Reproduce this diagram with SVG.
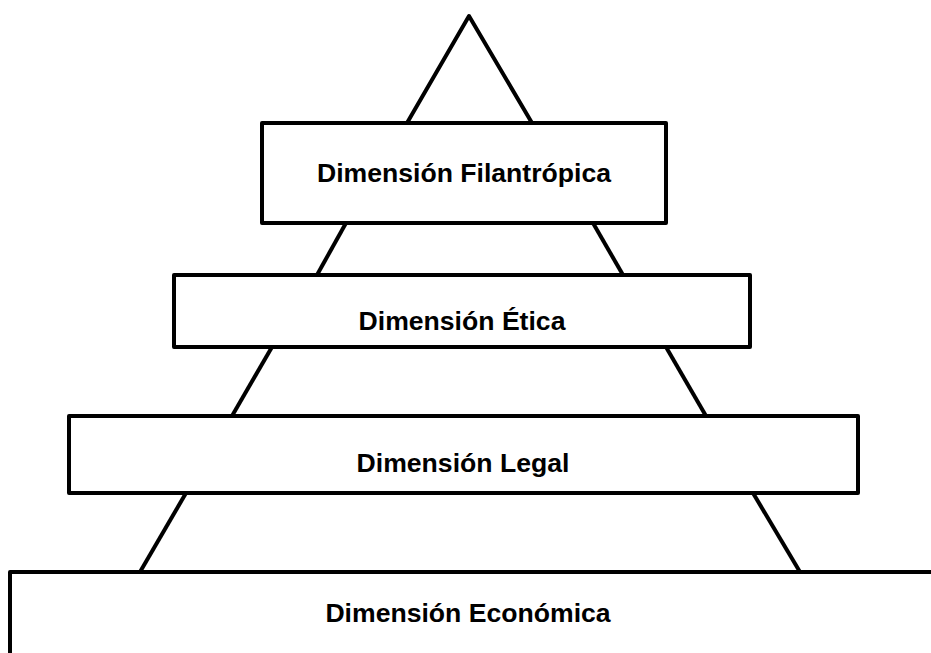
<svg xmlns="http://www.w3.org/2000/svg" width="931" height="653" viewBox="0 0 931 653">
<style>
.box{fill:#fff;stroke:#000;stroke-width:4;stroke-linejoin:round}
.ln{stroke:#000;stroke-width:4;fill:none;stroke-linejoin:round}
.t{font-family:"Liberation Sans",Arial,sans-serif;font-weight:bold;font-size:26.6px;fill:#000;text-anchor:middle}
</style>
<rect width="931" height="653" fill="#fff"/>
<g id="connectors">
<polyline class="ln" points="407,123 469,16 532,123"/>
<line class="ln" x1="346" y1="223" x2="317" y2="275"/>
<line class="ln" x1="593" y1="223" x2="623" y2="275"/>
<line class="ln" x1="272" y1="347" x2="232" y2="416"/>
<line class="ln" x1="666" y1="347" x2="706" y2="416"/>
<line class="ln" x1="186" y1="493" x2="140" y2="572"/>
<line class="ln" x1="753" y1="493" x2="800" y2="572"/>
</g>
<g id="filantropica">
<rect class="box" x="262" y="123" width="404" height="100"/>
<text class="t" x="464" y="182">Dimensión Filantrópica</text>
</g>
<g id="etica">
<rect class="box" x="174" y="275" width="576" height="72"/>
<text class="t" x="462" y="330">Dimensión Ética</text>
</g>
<g id="legal">
<rect class="box" x="69" y="416" width="789" height="77"/>
<text class="t" x="463" y="472">Dimensión Legal</text>
</g>
<g id="economica">
<rect class="box" x="10" y="572" width="940" height="100"/>
<text class="t" x="468" y="622">Dimensión Económica</text>
</g>
</svg>
